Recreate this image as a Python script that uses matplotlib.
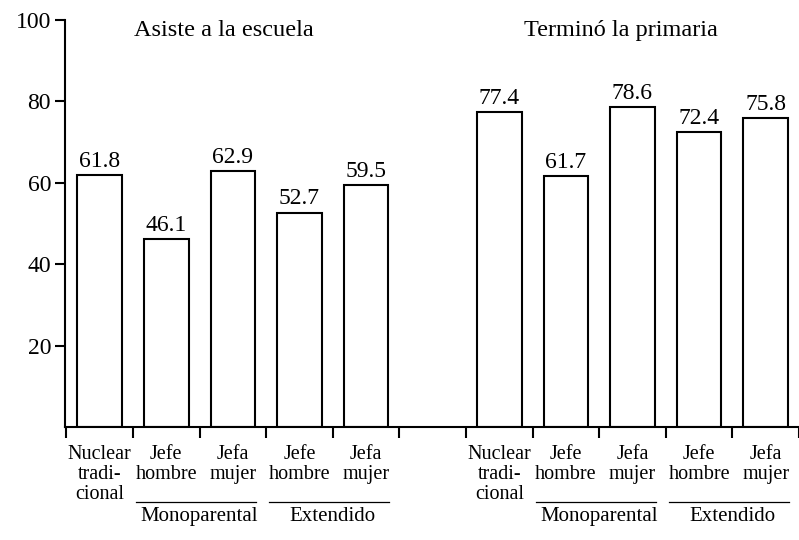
import matplotlib.pyplot as plt
import numpy as np

titles = ["Asiste a la escuela", "Terminó la primaria"]
categories = ["Nuclear\ntradi-\ncional", "Jefe\nhombre", "Jefa\nmujer", "Jefe\nhombre", "Jefa\nmujer"]
asiste = [61.8, 46.1, 62.9, 52.7, 59.5]
termino = [77.4, 61.7, 78.6, 72.4, 75.8]
groups = ["Monoparental", "Extendido"]

plt.rcParams["font.family"] = ["Liberation Serif", "DejaVu Serif"]

fig = plt.figure(figsize=(7.99, 5.40), dpi=100)
ax = fig.add_axes([65 / 799, 113 / 540, 1 - 65 / 799, 407 / 540])

x1 = np.arange(5)
x2 = np.arange(5) + 6
for xs, vals in [(x1, asiste), (x2, termino)]:
    ax.bar(xs, vals, width=0.67, facecolor="white", edgecolor="black", linewidth=1.5)
    for x, v in zip(xs, vals):
        ax.text(x, v + 0.8, f"{v:.1f}", ha="center", va="bottom", fontsize=17)

ax.set_xlim(-0.52, 10.4)
ax.set_ylim(0, 100)
ax.set_yticks([20, 40, 60, 80, 100])
ax.tick_params(axis="y", labelsize=17, length=7, width=1.5, direction="out", pad=3)

centers = list(x1) + list(x2)
ax.set_xticks(centers)
ax.set_xticklabels(categories * 2, fontsize=14.5, linespacing=1.07)
ax.tick_params(axis="x", which="major", length=0, pad=13)
bounds = list(np.arange(-0.5, 5, 1)) + list(np.arange(5.5, 10.6, 1))
ax.set_xticks(bounds, minor=True)
ax.tick_params(axis="x", which="minor", length=8, width=1.5, direction="out")

for s in ["top", "right"]:
    ax.spines[s].set_visible(False)
ax.spines["left"].set_linewidth(1.5)
ax.spines["bottom"].set_linewidth(1.5)

ax.text(1.86, 97.5, titles[0], ha="center", va="center", fontsize=17.5)
ax.text(7.83, 97.5, titles[1], ha="center", va="center", fontsize=17.5)

trans = ax.get_xaxis_transform()
for off in [0, 6]:
    for (a, b), name in zip([(1, 2), (3, 4)], groups):
        ax.plot([a - 0.45 + off, b + 0.35 + off], [-0.184, -0.184], color="black",
                linewidth=0.9, transform=trans, clip_on=False)
        ax.text((a + b) / 2 + off, -0.219, name, ha="center", va="center",
                fontsize=15, transform=trans)

fig.savefig("out.png", dpi=100)
